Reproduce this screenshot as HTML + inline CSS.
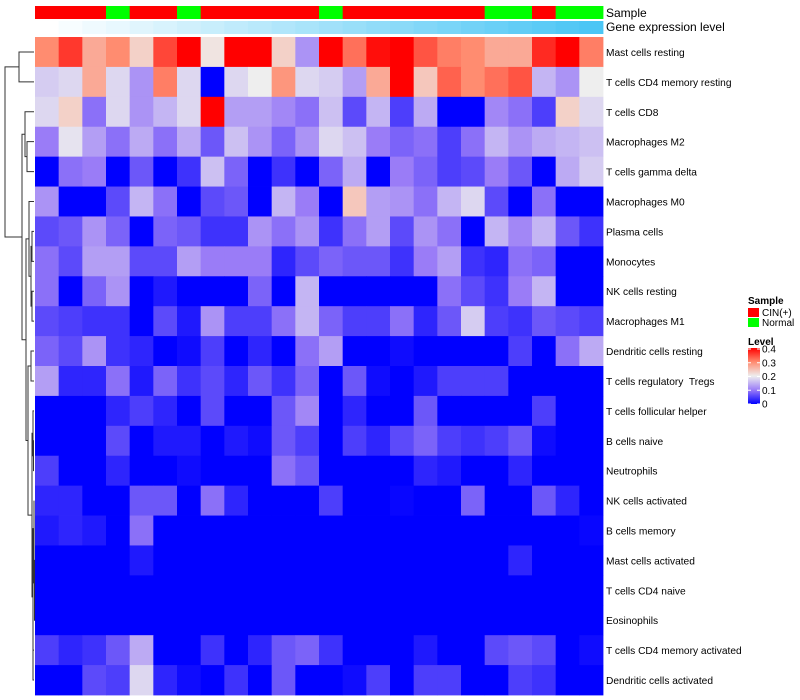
<!DOCTYPE html>
<html><head><meta charset="utf-8">
<style>
html,body{margin:0;padding:0;background:#fff;}
svg{display:block;font-family:"Liberation Sans",sans-serif;}
#rowlabels text{white-space:pre;}
</style></head>
<body>
<svg id="chart" width="800" height="700" viewBox="0 0 800 700" xmlns="http://www.w3.org/2000/svg">
<g id="dendro"></g>
<g id="annot"></g>
<g id="cells"></g>
<g id="rowlabels"></g>
<text x="606" y="17" font-size="12" fill="#000">Sample</text>
<text x="606" y="31" font-size="12" fill="#000">Gene expression level</text>
<g id="legend">
  <text x="748" y="304" font-size="10" font-weight="bold">Sample</text>
  <rect x="748" y="308" width="11" height="9" fill="#ff0000"/>
  <text x="762" y="316" font-size="10">CIN(+)</text>
  <rect x="748" y="318" width="11" height="9" fill="#00ff00"/>
  <text x="762" y="326" font-size="10">Normal</text>
  <text x="748" y="345" font-size="10" font-weight="bold">Level</text>
  <defs><linearGradient id="lg" x1="0" y1="1" x2="0" y2="0">
    <stop offset="0" stop-color="#0000ff"/><stop offset="0.25" stop-color="#9a7cf7"/><stop offset="0.5" stop-color="#eeeeee"/><stop offset="0.75" stop-color="#ff8c70"/><stop offset="1" stop-color="#ff0000"/>
  </linearGradient></defs>
  <rect x="748" y="348" width="12" height="56" fill="url(#lg)"/>
  <g id="levelticks"></g>
</g>
</svg>
<script>
const rowNames = ["Mast cells resting","T cells CD4 memory resting","T cells CD8","Macrophages M2","T cells gamma delta","Macrophages M0","Plasma cells","Monocytes","NK cells resting","Macrophages M1","Dendritic cells resting","T cells regulatory  Tregs","T cells follicular helper","B cells naive","Neutrophils","NK cells activated","B cells memory","Mast cells activated","T cells CD4 naive","Eosinophils","T cells CD4 memory activated","Dendritic cells activated"];
const sampleGroups = ["CIN","CIN","CIN","Normal","CIN","CIN","Normal","CIN","CIN","CIN","CIN","CIN","Normal","CIN","CIN","CIN","CIN","CIN","CIN","Normal","Normal","CIN","Normal","Normal"];
const levelTicks = [0,0.1,0.2,0.3,0.4];
const r01 = [.3,.36,.27,.3,.23,.35,.4,.21,.4,.4,.23,.12,.4,.32,.39,.4,.34,.31,.3,.27,.27,.37,.4,.31];
const r02 = [.17,.18,.27,.18,.12,.31,.18,0,.18,.2,.29,.18,.17,.13,.27,.4,.24,.33,.3,.32,.34,.15,.12,.2];
const r03 = [.18,.23,.09,.18,.12,.15,.18,.4,.13,.13,.11,.09,.16,.06,.15,.05,.14,0,0,.11,.09,.05,.23,.18];
const r04 = [.1,.19,.13,.09,.14,.09,.14,.07,.16,.12,.08,.12,.18,.16,.1,.08,.09,.05,.09,.15,.12,.14,.15,.16];
const r05 = [0,.09,.1,0,.07,0,.04,.16,.08,0,.04,0,.08,.14,0,.1,.08,.05,.06,.1,.07,0,.14,.17];
const r06 = [.12,0,0,.06,.15,.09,0,.06,.07,0,.15,.1,0,.24,.13,.12,.09,.15,.18,.06,0,.09,0,0];
const r07 = [.06,.07,.12,.08,0,.08,.07,.04,.04,.12,.09,.12,.04,.09,.13,.06,.12,.09,0,.15,.11,.15,.07,.04];
const r08 = [.09,.06,.13,.13,.06,.06,.13,.1,.1,.1,.03,.06,.08,.07,.07,.04,.1,.13,.04,.03,.09,.08,0,0];
const r09 = [.09,0,.08,.12,0,.02,0,0,0,.08,0,.15,0,0,0,0,0,.09,.06,.04,.1,.15,0,0];
const r10 = [.06,.05,.04,.04,0,.06,.02,.12,.05,.05,.09,.15,.08,.05,.05,.09,.03,.07,.17,.05,.04,.07,.06,.05];
const r11 = [.08,.06,.12,.04,.03,0,.01,.05,0,.03,0,.09,.13,0,0,.01,0,0,0,0,.05,0,.09,.14];
const r12 = [.13,.03,.03,.09,.02,.08,.04,.06,.03,.07,.04,.08,0,.07,.01,0,.02,.05,.05,.05,0,0,0,0];
const r13 = [0,0,0,.03,.05,.03,0,.06,0,0,.07,.11,0,.03,0,0,.07,0,0,0,0,.05,0,0];
const r14 = [0,0,0,.06,0,.02,.02,0,.02,.01,.07,.05,0,.05,.03,.06,.08,.05,.04,.05,.07,.01,0,0];
const r15 = [.05,0,0,.03,0,0,.01,0,0,0,.09,.07,0,0,0,0,.03,.02,0,0,.03,0,0,0];
const r16 = [.03,.03,0,0,.07,.07,0,.09,.03,0,0,0,.05,0,0,.005,0,0,.08,0,0,.07,.03,0];
const r17 = [.02,.03,.02,0,.09,0,0,0,0,0,0,0,0,0,0,0,0,0,0,0,0,0,0,.005];
const r18 = [0,0,0,0,.02,0,0,0,0,0,0,0,0,0,0,0,0,0,0,0,.03,0,0,0];
const r19 = [0,0,0,0,0,0,0,0,0,0,0,0,0,0,0,0,0,0,0,0,0,0,0,0];
const r20 = [0,0,0,0,0,0,0,0,0,0,0,0,0,0,0,0,0,0,0,0,0,0,0,0];
const r21 = [.05,.03,.04,.07,.14,0,0,.04,0,.03,.07,.08,.04,0,0,0,.02,0,0,.06,.07,.06,0,.01];
const r22 = [0,0,.06,.05,.18,.03,.01,0,.04,0,.07,0,0,.01,.05,0,.05,.05,0,0,.05,.04,0,0];
const values = [r01,r02,r03,r04,r05,r06,r07,r08,r09,r10,r11,r12,r13,r14,r15,r16,r17,r18,r19,r20,r21,r22];

const NS="http://www.w3.org/2000/svg";
const X0=35, X1=603, Y0=37, Y1=695;
const nCol=sampleGroups.length, nRow=rowNames.length;
const cw=(X1-X0)/nCol, rh=(Y1-Y0)/nRow;
const xCol=i=>X0+i*cw;
const yRow=j=>Y0+j*rh;
const stops=[[0,[0,0,255]],[0.1,[154,124,247]],[0.2,[238,238,238]],[0.3,[255,140,112]],[0.4,[255,0,0]]];
function color(v){
  v=Math.max(0,Math.min(0.4,v));
  for(let k=0;k<stops.length-1;k++){
    const [a,ca]=stops[k],[b,cb]=stops[k+1];
    if(v<=b){const t=(v-a)/(b-a);return "rgb("+ca.map((c,i)=>Math.round(c+(cb[i]-c)*t)).join(",")+")";}
  }
  return "rgb(255,0,0)";
}
function mk(tag,attrs,parent){const e=document.createElementNS(NS,tag);for(const k in attrs)e.setAttribute(k,attrs[k]);parent.appendChild(e);return e;}

const cells=document.getElementById('cells');
values.forEach((row,j)=>row.forEach((v,i)=>{
  const r=mk('rect',{x:xCol(i),y:yRow(j),width:cw+0.4,height:rh+0.4,fill:color(v)},cells);
  
  
}));

const annot=document.getElementById('annot');
sampleGroups.forEach((g,i)=>{
  const r=mk('rect',{x:xCol(i),y:6,width:cw+0.4,height:13,fill:g==="CIN"?"#ff0000":"#00ff00"},annot);
  
  
  const t=i/(nCol-1);
  const c=[255+(75-255)*t,255+(198-255)*t,255+(245-255)*t].map(Math.round);
  const g2=mk('rect',{x:xCol(i),y:21,width:cw+0.4,height:13,fill:"rgb("+c.join(",")+")"},annot);
  
  
});

const rl=document.getElementById('rowlabels');
rowNames.forEach((n,j)=>{
  const t=mk('text',{x:606,y:yRow(j)+rh/2+4,'font-size':10.2,fill:'#000','xml:space':'preserve'},rl);
  t.textContent=n;
  
  
});

const lt=document.getElementById('levelticks');
levelTicks.forEach(v=>{
  const y=404-v/0.4*55;
  mk('line',{x1:748,x2:751,y1:y,y2:y,stroke:'#fff','stroke-width':1},lt);
  mk('line',{x1:757,x2:760,y1:y,y2:y,stroke:'#fff','stroke-width':1},lt);
  const t=mk('text',{x:762,y:y+3.5,'font-size':10},lt);
  t.textContent=String(v);
  
  
});

// dendrogram (structure only)
const tree=[5,[19,0,1],[22,[25,2,[27,3,4]],[26,[29,5,[31,[32,6,7],[32,8,9]]],[28,[31,10,11],[32,[33,12,[33.5,13,14]],[33,[34,15,[34,16,[34.5,17,[34.5,18,19]]]],[33,20,21]]]]]]];
const dg=document.getElementById('dendro');
function draw(n){
  if(typeof n==="number") return {x:X0-1,y:yRow(n)+rh/2};
  const a=draw(n[1]),b=draw(n[2]),x=n[0];
  mk('path',{d:`M${a.x},${a.y}H${x}V${b.y}H${b.x}`,fill:'none',stroke:'#333','stroke-width':1},dg);
  return {x:x,y:(a.y+b.y)/2};
}
draw(tree);
</script>
</body></html>
